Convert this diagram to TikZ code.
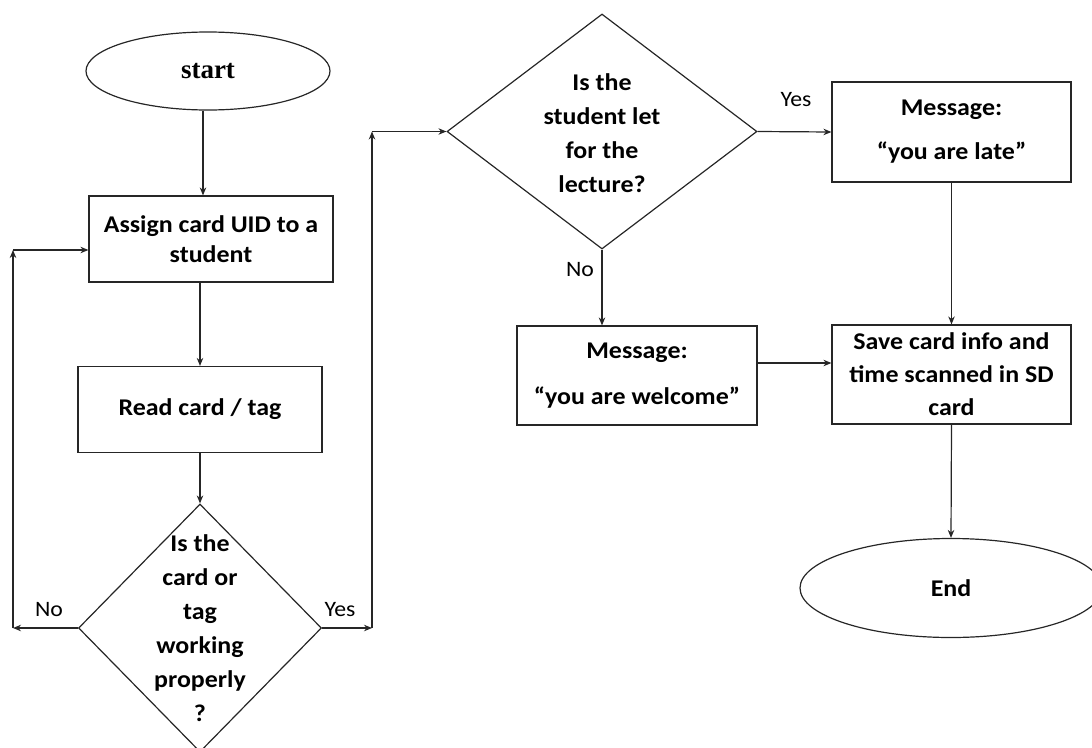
\documentclass[tikz,border=0pt]{standalone}
\usepackage{fontspec}
\setmainfont{Carlito}[FakeStretch=1.08]
\newfontfamily\startfont{Liberation Serif}
\usetikzlibrary{shapes.geometric,arrows.meta}
\tikzset{
  line/.style={draw=black!85, line width=1.2pt},
  arr/.style={line, -{Stealth[length=8pt,width=6.5pt]}},
  boxnode/.style={line, rectangle, inner sep=0pt, align=center, font=\bfseries\fontsize{24}{30}\selectfont},
  decnode/.style={line, diamond, inner sep=0pt},
  dectext/.style={inner sep=0pt, align=center, font=\bfseries\fontsize{24}{34}\selectfont},
  termnode/.style={line, ellipse, inner sep=0pt, align=center},
  lbl/.style={font=\fontsize{22}{26}\selectfont, inner sep=0pt}
}
\begin{document}
\begin{tikzpicture}[x=1pt,y=-1pt]
\useasboundingbox (0,0) rectangle (1092,747);
\node[termnode, minimum width=244pt, minimum height=78pt, font=\startfont\bfseries\fontsize{27}{30}\selectfont] (start) at (208,71) {start};
\node[boxnode, minimum width=244pt, minimum height=86pt] (assign) at (211,239) {Assign card UID to a\\student};
\node[boxnode, minimum width=244pt, minimum height=86pt] (read) at (200,409.5) {Read card / tag};
\node[decnode, minimum width=243pt, minimum height=248pt] (d1) at (200,628) {};
\node[dectext] (d1t) at (200,628) {Is the\\card or\\tag\\working\\properly\\?};
\node[decnode, minimum width=310pt, minimum height=235pt] (d2) at (602,131.5) {};
\node[dectext] (d2t) at (602,133) {Is the\\student let\\for the\\lecture?};
\node[boxnode, minimum width=239pt, minimum height=100pt, font=\bfseries\fontsize{24}{44}\selectfont] (late) at (951.5,132) {Message:\\“you are late”};
\node[boxnode, minimum width=240pt, minimum height=99pt, font=\bfseries\fontsize{24}{46}\selectfont] (welcome) at (637,375.5) {Message:\\“you are welcome”};
\node[boxnode, minimum width=239pt, minimum height=99pt, font=\bfseries\fontsize{24}{33}\selectfont] (save) at (951.5,374.5) {Save card info and\\time scanned in SD\\card};
\node[termnode, minimum width=302pt, minimum height=99pt, font=\bfseries\fontsize{24}{30}\selectfont] (end) at (951,588) {End};

\coordinate (nl) at (13,628);
\coordinate (nt) at (13,250);
\coordinate (yr) at (372,628);
\coordinate (yt) at (372,131.5);

\draw[arr] (start.south -| 203,0) -- (assign.north -| 203,0);
\draw[arr] (read.north |- assign.south) -- (read.north);
\draw[arr] (read.south) -- (d1.north);
\draw[arr] (d1.west) -- (nl);
\draw[arr] (nl) -- (nt);
\draw[arr] (nt) -- (nt -| assign.west);
\draw[arr] (d1.east) -- (yr);
\draw[arr] (yr) -- (yt);
\draw[arr] (yt) -- (d2.west);
\draw[arr] (d2.east) -- (late.west);
\draw[arr] (d2.south) -- (d2.south |- welcome.north);
\draw[arr] ([yshift=12.5pt]welcome.east) -- ([yshift=12.5pt]welcome.east -| save.west);
\draw[arr] (late.south) -- (save.north);
\draw[arr] (save.south) -- (end.north);

\node[lbl] (lno1) at (49,610) {No};
\node[lbl] (lyes1) at (340,610) {Yes};
\node[lbl] (lyes2) at (796,100) {Yes};
\node[lbl] (lno2) at (580,270) {No};
\end{tikzpicture}
\end{document}
